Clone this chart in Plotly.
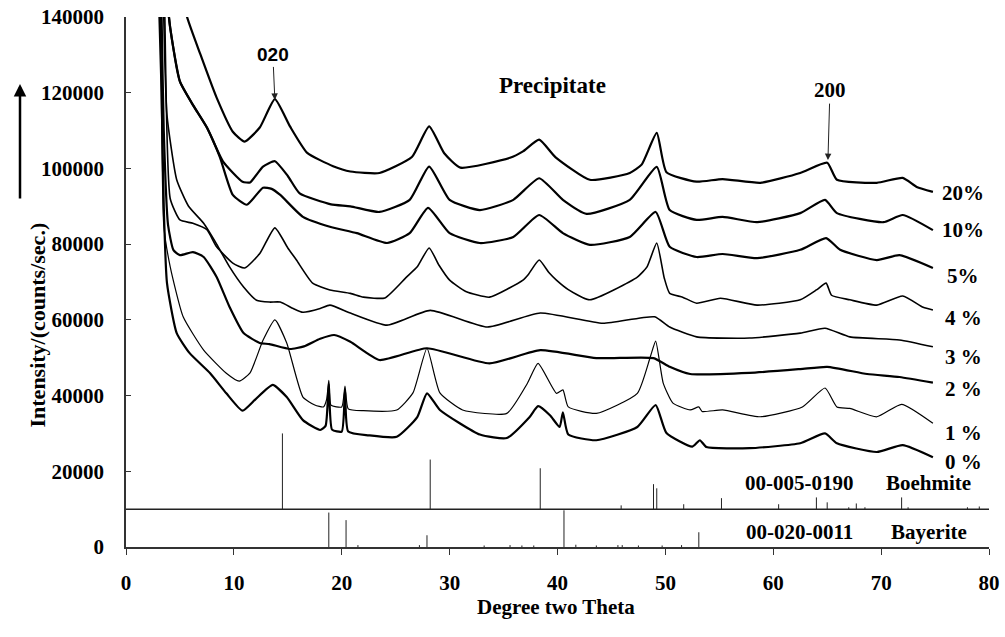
import plotly.graph_objects as go

# ---------------- data ----------------
tt_20 = [5.0, 5.6, 6.9, 8.4, 9.9, 11.0, 12.4, 13.8, 15.2, 16.8, 19.2, 20.8, 23.5, 26.5, 28.1, 29.5, 31.0,
         35.6, 36.8, 38.3, 39.8, 43.0, 46.7, 47.8, 49.2, 50.1, 52.9, 55.3, 58.8, 62.5, 65.0, 65.9, 69.6,
         72.0, 73.3, 74.8]
I_20 = [152000, 140600, 130100, 118700, 109700, 107100, 110800, 118300, 111100, 104100, 100600, 99200,
        98800, 103000, 111100, 104000, 100200, 102800, 104500, 107600, 103000, 97000, 98800, 101000,
        109400, 99000, 96500, 97200, 96200, 98800, 101500, 97000, 96200, 97500, 95100, 93800]

tt_10 = [3.8, 4.1, 5.0, 6.2, 7.5, 9.0, 10.8, 11.5, 12.7, 13.8, 15.0, 16.1, 19.0, 20.8, 23.5, 26.3, 28.1,
         30.0, 32.8, 35.9, 38.3, 40.5, 42.7, 46.7, 49.2, 50.4, 52.9, 55.3, 58.5, 62.5, 64.8, 65.9, 70.2,
         72.0, 74.8]
I_10 = [145000, 137200, 122900, 116800, 110800, 101800, 96500, 96300, 100500, 101900, 98000, 93400,
        90500, 90000, 88500, 91700, 100500, 91700, 89000, 91700, 97400, 91700, 88000, 91700, 100400,
        89000, 86400, 87200, 85800, 88200, 91700, 88200, 85800, 87700, 83700]

tt_5 = [3.8, 4.1, 5.0, 6.2, 7.5, 8.7, 9.9, 11.2, 12.7, 13.5, 14.3, 16.4, 18.9, 21.4, 24.2, 26.3, 28.0,
        30.0, 32.8, 35.9, 38.3, 40.5, 43.0, 46.7, 49.1, 50.4, 52.9, 55.3, 58.5, 62.5, 64.9, 66.2, 69.6,
        71.7, 74.8]
I_5 = [145000, 137000, 123000, 116800, 110800, 103000, 93000, 90400, 94900, 94600, 93000, 87200, 84600,
       82900, 80300, 82900, 89600, 82900, 80300, 81900, 87700, 82900, 79800, 81900, 88500, 79300, 76600,
       77400, 76300, 78500, 81600, 78500, 75800, 77100, 73700]

tt_4 = [3.5, 3.6, 4.1, 5.0, 6.2, 7.5, 8.4, 9.9, 11.0, 12.4, 13.8, 15.0, 15.8, 17.3, 18.9, 20.8, 22.0,
        24.0, 26.0, 27.0, 28.1, 29.0, 30.0, 31.5, 33.7, 36.8, 37.3, 38.3, 39.2, 39.9, 41.0, 43.0, 47.4,
        48.3, 49.2, 49.9, 50.4, 51.6, 52.9, 55.1, 58.5, 62.5, 64.0, 64.9, 65.4, 67.1, 69.6, 72.0, 73.9,
        74.8]
I_4 = [160000, 140000, 92000, 86400, 85500, 83800, 79300, 75000, 73700, 77500, 84300, 79000, 75800,
       69700, 67900, 67000, 66000, 65800, 71300, 74000, 79000, 74500, 70500, 67500, 66000, 70500, 72000,
       75800, 72500, 70500, 68000, 65300, 71300, 74000, 80300, 71000, 67000, 66000, 64400, 65700, 63900,
       65300, 67900, 69700, 66500, 65300, 63900, 66300, 63300, 62600]

tt_3 = [3.4, 3.5, 3.8, 4.7, 5.8, 7.2, 8.4, 9.6, 10.9, 12.1, 13.3, 14.3, 15.5, 16.4, 18.0, 18.9, 20.8,
        24.2, 28.2, 33.5, 38.4, 44.2, 49.0, 50.4, 52.9, 57.8, 62.5, 64.8, 67.1, 71.7, 74.8]
I_3 = [160000, 140000, 114000, 97000, 90000, 85500, 80000, 74000, 68700, 65200, 64700, 64700, 63000,
       62000, 63000, 63900, 61800, 58600, 62500, 58100, 61800, 59100, 60800, 58100, 55500, 55200, 56500,
       57800, 55500, 54700, 52900]

tt_2 = [3.2, 3.3, 3.5, 3.9, 4.4, 5.0, 6.2, 7.2, 8.4, 9.6, 10.9, 12.4, 13.3, 15.2, 16.5, 18.0, 19.3,
        20.8, 23.5, 27.9, 33.7, 38.4, 43.6, 48.9, 50.4, 52.3, 57.8, 62.5, 65.0, 68.7, 71.7, 74.8]
I_2 = [160000, 140000, 110000, 85000, 78400, 77100, 77900, 76600, 71300, 63400, 56500, 53900, 53600,
       52300, 53000, 55000, 56000, 54200, 49400, 52500, 48500, 52000, 49900, 49900, 47600, 45700, 46000,
       47000, 47600, 45700, 44900, 43400]

tt_1 = [3.1, 3.2, 3.5, 4.1, 5.3, 7.2, 9.3, 10.5, 11.5, 12.7, 13.8, 14.9, 16.4, 17.5, 18.3, 18.6, 18.8,
        19.0, 20.0, 20.3, 20.6, 22.0, 25.1, 26.6, 27.9, 29.1, 31.2, 35.3, 37.2, 38.2, 39.9, 40.5, 41.0,
        43.6, 47.4, 48.6, 49.1, 49.8, 50.7, 52.3, 53.1, 53.4, 55.3, 58.8, 62.7, 64.8, 65.9, 67.1, 69.6,
        71.9, 74.8]
I_1 = [160000, 140000, 85000, 74000, 60800, 52000, 45900, 43800, 46000, 54600, 60000, 53900, 39600,
       37500, 37000, 39000, 44000, 37500, 37000, 42500, 36500, 36000, 36200, 40700, 52500, 40700, 36200,
       35300, 43200, 48500, 40600, 41500, 37000, 35300, 40600, 50200, 54400, 43300, 38000, 36200, 37000,
       35800, 36200, 34400, 37000, 42000, 37000, 36600, 34400, 37700, 32700]

tt_0 = [3.0, 3.1, 3.3, 3.5, 3.8, 4.7, 5.9, 7.8, 9.3, 10.8, 12.0, 13.6, 14.9, 16.4, 18.0, 18.5, 18.8,
        19.1, 20.0, 20.3, 20.6, 22.5, 25.1, 27.0, 27.9, 29.1, 32.8, 35.3, 37.4, 38.2, 39.3, 40.2, 40.5,
        41.0, 43.6, 47.4, 49.1, 50.1, 52.5, 53.2, 53.8, 57.8, 62.5, 64.8, 65.9, 69.6, 72.0, 74.8]
I_0 = [160000, 140000, 120000, 90000, 69700, 56500, 51200, 45900, 40600, 36000, 39000, 42800, 39600,
       33500, 30900, 32000, 43000, 31000, 30500, 41500, 30500, 29500, 29100, 34300, 40600, 36200, 29700,
       28800, 34300, 37200, 34800, 31700, 35600, 29700, 28200, 31700, 37500, 30100, 26500, 28200, 26400,
       26100, 27400, 30000, 27400, 25100, 26900, 23700]

sample_labels = ["20%", "10%", "5%", "4 %", "3 %", "2 %", "1 %", "0 %"]

# reference patterns (stick positions / heights above their base line)
boehmite_pos = [14.5, 28.2, 38.4, 45.9, 48.9, 49.2, 51.7, 55.2, 60.5, 64.0, 65.0, 67.0, 67.7, 68.5,
                71.9, 72.5, 78.0, 79.1]
boehmite_h = [20000, 13100, 10800, 1000, 6600, 5500, 1300, 2900, 1300, 3100, 1800, 500, 1500, 500,
              3100, 500, 500, 700]
boehmite_base = 10000
bayerite_pos = [18.8, 20.4, 21.5, 27.2, 27.9, 33.2, 35.6, 36.7, 37.8, 40.6, 41.7, 43.6, 45.6, 46.0,
                47.5, 49.7, 51.5, 53.1]
bayerite_h = [9100, 7100, 500, 500, 3100, 400, 500, 400, 400, 9700, 600, 400, 500, 500, 400, 400, 500,
              3900]
bayerite_base = 0
ref_codes = ["00-005-0190", "00-020-0011"]
ref_names = ["Boehmite", "Bayerite"]

x_ticks = [0, 10, 20, 30, 40, 50, 60, 70, 80]
y_ticks = [0, 20000, 40000, 60000, 80000, 100000, 120000, 140000]

# ---------------- figure ----------------
SERIF = "Liberation Serif, Times New Roman, serif"
SANS = "Liberation Sans, Arial, sans-serif"

series = [(tt_20, I_20, 2.2), (tt_10, I_10, 2.2), (tt_5, I_5, 2.2), (tt_4, I_4, 1.6),
          (tt_3, I_3, 1.6), (tt_2, I_2, 2.2), (tt_1, I_1, 1.2), (tt_0, I_0, 2.2)]

fig = go.Figure()
for xs, ys, w in series:
    fig.add_trace(go.Scatter(x=xs, y=ys, mode="lines",
                             line=dict(color="black", width=w, shape="spline", smoothing=0.5),
                             hoverinfo="skip", showlegend=False, cliponaxis=True))


def sticks(pos, h, base):
    xs, ys = [], []
    for p, v in zip(pos, h):
        xs += [p, p, None]
        ys += [base, base + v, None]
    return xs, ys


for pos, h, base in [(boehmite_pos, boehmite_h, boehmite_base), (bayerite_pos, bayerite_h, bayerite_base)]:
    sx, sy = sticks(pos, h, base)
    fig.add_trace(go.Scatter(x=sx, y=sy, mode="lines", line=dict(color="#222", width=1),
                             hoverinfo="skip", showlegend=False))

# separator line between the two reference patterns
fig.add_shape(type="line", xref="x", yref="y", x0=x_ticks[0], x1=x_ticks[-1],
              y0=boehmite_base, y1=boehmite_base, line=dict(color="#222", width=1.5))

BOLD_SERIF = dict(family=SERIF, size=21, color="black", weight="bold")

ann = []
# sample labels at right
label_y = [93500, 83700, 71600, 60500, 50200, 41800, 30100, 22500]
for t, yv in zip(sample_labels, label_y):
    ann.append(dict(x=77.6, y=yv, xref="x", yref="y", text=t, showarrow=False,
                    font=BOLD_SERIF, xanchor="center", yanchor="middle"))
# reference labels
for code, name, yv in zip(ref_codes, ref_names, [16900, 3950]):
    ann.append(dict(x=62.4, y=yv, xref="x", yref="y", text=code, showarrow=False,
                    font=BOLD_SERIF, xanchor="center", yanchor="middle"))
    ann.append(dict(x=74.4, y=yv, xref="x", yref="y", text=name, showarrow=False,
                    font=BOLD_SERIF, xanchor="center", yanchor="middle"))

# peak markers
ann.append(dict(x=13.8, y=118100, xref="x", yref="y", text="020", showarrow=True,
                ax=-2, ay=-45, arrowhead=2, arrowsize=1.3, arrowwidth=1, arrowcolor="#222",
                font=dict(family=SANS, size=19, color="black", weight="bold")))
ann.append(dict(x=65.07, y=102200, xref="x", yref="y", text="200", showarrow=True,
                ax=2, ay=-70, arrowhead=2, arrowsize=1.3, arrowwidth=1, arrowcolor="#222",
                font=BOLD_SERIF))
ann.append(dict(x=39.58, y=122000, xref="x", yref="y", text="Precipitate", showarrow=False,
                font=dict(family=SERIF, size=23, color="black", weight="bold")))
# axis titles
ann.append(dict(x=(556 - 126) / 863, y=(547 - 621) / 530, xref="paper", yref="paper",
                text="Degree two Theta", showarrow=False, font=BOLD_SERIF))
ann.append(dict(x=(22 - 126) / 863, y=(547 - 325) / 530, xref="paper", yref="paper",
                text="Intensity/(counts/sec.)", showarrow=False, textangle=-90,
                font=dict(family=SERIF, size=22, color="black", weight="bold")))
ann.append(dict(x=(20 - 126) / 863, y=(547 - 84) / 530, xref="paper", yref="paper", text="",
                showarrow=True, ax=0, ay=116, arrowhead=2, arrowsize=1, arrowwidth=2.5,
                arrowcolor="black"))

fig.update_layout(
    template="none",
    width=1005, height=637,
    margin=dict(l=126, r=16, t=17, b=90, autoexpand=False),
    paper_bgcolor="white", plot_bgcolor="white",
    showlegend=False,
    annotations=ann,
    xaxis=dict(range=[x_ticks[0], x_ticks[-1]], tickvals=x_ticks, ticks="outside", ticklen=6,
               tickcolor="#333", showline=True, linecolor="#333", linewidth=1.5, showgrid=False,
               zeroline=False, tickfont=BOLD_SERIF, ticklabelstandoff=10, automargin=False,
               mirror=False),
    yaxis=dict(range=[y_ticks[0], y_ticks[-1]], tickvals=y_ticks, tickformat="d", ticks="inside",
               ticklen=5, tickcolor="#333", showline=True, linecolor="#333", linewidth=1.5,
               showgrid=False, zeroline=False, tickfont=BOLD_SERIF, ticklabelstandoff=16,
               automargin=False, mirror=False),
)

fig.write_html("out.html", config={"displayModeBar": False},
               post_script="document.body.style.margin='0px';document.body.style.overflow='hidden';")
